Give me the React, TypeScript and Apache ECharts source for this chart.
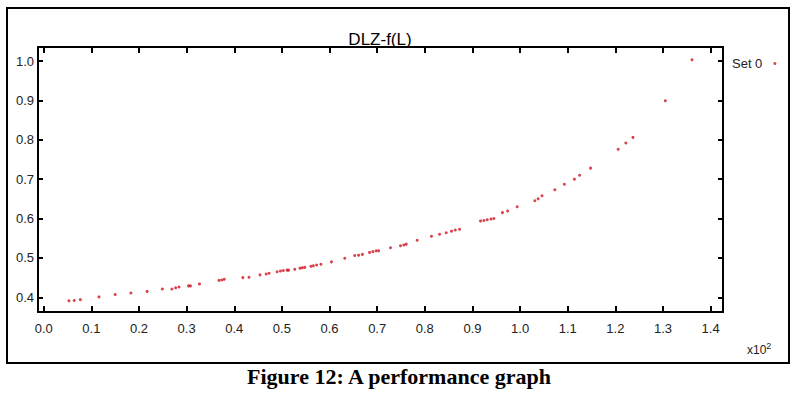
import React, { useEffect, useRef } from "react";
import * as echarts from "echarts";

// L (in units of 10^2) and DLZ values
const lValues = [
  0.053, 0.064, 0.077, 0.116, 0.150, 0.183, 0.217, 0.249, 0.269, 0.277,
  0.284, 0.304, 0.308, 0.327, 0.368, 0.374, 0.379, 0.418, 0.431, 0.454,
  0.467, 0.473, 0.490, 0.497, 0.503, 0.511, 0.514, 0.527, 0.538, 0.543,
  0.548, 0.561, 0.566, 0.573, 0.582, 0.604, 0.632, 0.653, 0.661, 0.669,
  0.684, 0.691, 0.698, 0.703, 0.728, 0.749, 0.756, 0.761, 0.784, 0.814,
  0.831, 0.845, 0.856, 0.864, 0.873, 0.917, 0.924, 0.931, 0.939, 0.945,
  0.963, 0.974, 0.994, 1.031, 1.038, 1.046, 1.073, 1.093, 1.114, 1.125,
  1.148, 1.206, 1.222, 1.237, 1.305, 1.361,
];
const dlzValues = [
  0.391, 0.392, 0.394, 0.401, 0.407, 0.411, 0.415, 0.421, 0.421, 0.424,
  0.426, 0.429, 0.429, 0.434, 0.443, 0.444, 0.446, 0.450, 0.451, 0.457,
  0.459, 0.461, 0.465, 0.467, 0.468, 0.469, 0.469, 0.471, 0.474, 0.475,
  0.476, 0.479, 0.480, 0.482, 0.484, 0.490, 0.499, 0.506, 0.507, 0.509,
  0.514, 0.516, 0.518, 0.518, 0.526, 0.531, 0.533, 0.535, 0.545, 0.555,
  0.560, 0.564, 0.568, 0.571, 0.573, 0.594, 0.595, 0.597, 0.599, 0.600,
  0.615, 0.619, 0.630, 0.645, 0.650, 0.658, 0.673, 0.687, 0.700, 0.710,
  0.728, 0.776, 0.792, 0.806, 0.899, 1.003,
];

const xTicks = [0.0, 0.1, 0.2, 0.3, 0.4, 0.5, 0.6, 0.7, 0.8, 0.9, 1.0, 1.1, 1.2, 1.3, 1.4];
const yTicks = [0.4, 0.5, 0.6, 0.7, 0.8, 0.9, 1.0];
const seriesName = "Set 0";
const chartTitle = "DLZ-f(L)";
const caption = "Figure 12: A performance graph";

const X_MIN = -0.012;
const X_MAX = 1.426;
const Y_MIN = 0.3627;
const Y_MAX = 1.0356;

const SANS = "'Liberation Sans', Arial, sans-serif";
const SERIF = "'Liberation Serif', 'Times New Roman', serif";

export default function App() {
  const ref = useRef<HTMLDivElement>(null);

  useEffect(() => {
    if (!ref.current) return;
    const chart = echarts.init(ref.current, undefined, { renderer: "svg" });
    const points = lValues.map((x, i) => [x, dlzValues[i]]);
    const tickStyle = { color: "#000", width: 2 };
    const axisLine = { show: true, onZero: false, lineStyle: { color: "#000", width: 2 } };
    const fmt = (v: number) => v.toFixed(1);

    chart.setOption({
      animation: false,
      backgroundColor: "#fff",
      textStyle: { fontFamily: SANS },
      grid: { left: 38, top: 47, right: 77, bottom: 82, containLabel: false },
      legend: {
        data: [{ name: seriesName, icon: "circle" }],
        left: 727,
        top: 52,
        align: "right",
        itemWidth: 3,
        itemHeight: 3,
        textStyle: { fontSize: 13, color: "#222", fontFamily: SANS, padding: [0, 6, 0, 0] },
      },
      xAxis: [
        {
          type: "value",
          position: "bottom",
          min: X_MIN,
          max: X_MAX,
          axisLine,
          splitLine: { show: false },
          axisTick: { show: true, inside: true, length: 6, lineStyle: tickStyle, customValues: xTicks },
          axisLabel: {
            show: true,
            customValues: xTicks,
            formatter: fmt,
            fontSize: 13,
            color: "#222",
            margin: 10,
            fontFamily: SANS,
          },
        },
        {
          type: "value",
          position: "top",
          min: X_MIN,
          max: X_MAX,
          axisLine,
          splitLine: { show: false },
          axisTick: { show: true, inside: true, length: 6, lineStyle: tickStyle, customValues: xTicks },
          axisLabel: { show: false },
        },
      ],
      yAxis: [
        {
          type: "value",
          position: "left",
          min: Y_MIN,
          max: Y_MAX,
          axisLine,
          splitLine: { show: false },
          axisTick: { show: true, inside: true, length: 5, lineStyle: tickStyle, customValues: yTicks },
          axisLabel: {
            show: true,
            customValues: yTicks,
            formatter: fmt,
            fontSize: 13,
            color: "#222",
            margin: 4,
            fontFamily: SANS,
          },
        },
        {
          type: "value",
          position: "right",
          min: Y_MIN,
          max: Y_MAX,
          axisLine,
          splitLine: { show: false },
          axisTick: { show: true, inside: true, length: 5, lineStyle: tickStyle, customValues: yTicks },
          axisLabel: { show: false },
        },
      ],
      series: [
        {
          name: seriesName,
          type: "scatter",
          xAxisIndex: 0,
          yAxisIndex: 0,
          data: points,
          symbol: "circle",
          symbolSize: 3,
          itemStyle: { color: "#d0141e" },
        },
      ],
      graphic: [
        {
          type: "rect",
          shape: { x: 7, y: 8, width: 782, height: 355 },
          style: { fill: "none", stroke: "#000", lineWidth: 2 },
          silent: true,
        },
        {
          type: "text",
          x: 380,
          y: 39,
          style: {
            text: chartTitle,
            fill: "#000",
            font: `17px ${SANS}`,
            textAlign: "center",
            textVerticalAlign: "middle",
          },
        },
        {
          type: "text",
          x: 747,
          y: 350,
          style: {
            text: "{a|x10}{b|2}",
            textAlign: "left",
            textVerticalAlign: "middle",
            rich: {
              a: { fontSize: 12, fontFamily: SANS, fill: "#222", color: "#222" },
              b: { fontSize: 9, fontFamily: SANS, fill: "#222", color: "#222", verticalAlign: "top", padding: [0, 0, 8, 0] },
            },
          },
        },
        {
          type: "text",
          x: 399,
          y: 376,
          style: {
            text: caption,
            fill: "#000",
            font: `bold 22px ${SERIF}`,
            textAlign: "center",
            textVerticalAlign: "middle",
          },
        },
      ],
    });
    return () => chart.dispose();
  }, []);

  return (
    <div
      ref={ref}
      style={{ position: "fixed", left: 0, top: 0, width: 800, height: 394, background: "#fff" }}
    />
  );
}
